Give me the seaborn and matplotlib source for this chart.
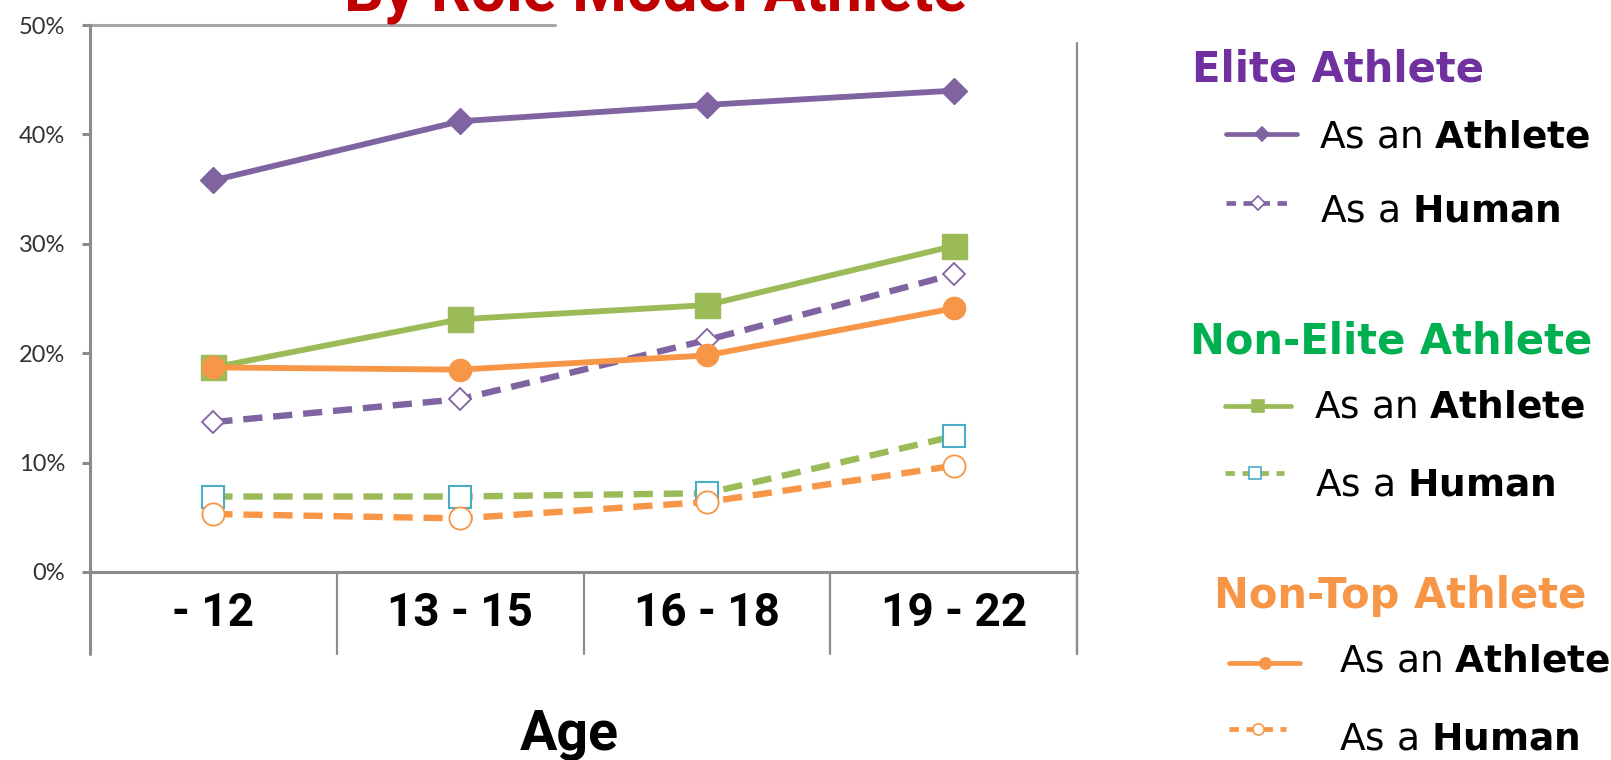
import numpy as np
import matplotlib
matplotlib.use("Agg")
import matplotlib.pyplot as plt
import matplotlib.transforms as mtransforms
import seaborn as sns

# data
ages = ['- 12', '13 - 15', '16 - 18', '19 - 22']
elite_athlete = [35.8, 41.2, 42.7, 44.0]
elite_human = [13.7, 15.8, 21.2, 27.2]
nonelite_athlete = [18.7, 23.1, 24.4, 29.8]
nonelite_human = [6.9, 6.9, 7.2, 12.4]
nontop_athlete = [18.7, 18.5, 19.8, 24.1]
nontop_human = [5.3, 4.9, 6.4, 9.7]
yticks = [0, 10, 20, 30, 40, 50]

PURPLE = '#8064A2'
GREEN = '#9BBB59'
ORANGE = '#F79646'
CYAN = '#4BACC6'
GRAY = '#8c8c8c'

sns.set_theme(style='white')
plt.rcParams['font.family'] = ['DejaVu Sans']
plt.rcParams['mathtext.fontset'] = 'dejavusans'

W, H = 1611, 760
fig = plt.figure(figsize=(W / 100, H / 100), dpi=100)
fig.patch.set_facecolor('white')

# axes box in pixels: x 90..1077, y 25..572
ax = fig.add_axes([90 / W, 1 - 572 / H, (1077 - 90) / W, (572 - 25) / H])
ax.set_facecolor('white')

x = np.arange(len(ages))
dash = (0, (3.0, 1.7))

series = [
    (elite_athlete, dict(color=PURPLE, lw=4.2, marker='D', markersize=13,
                         markerfacecolor=PURPLE, markeredgecolor=PURPLE, markeredgewidth=1, linestyle='-')),
    (elite_human, dict(color=PURPLE, lw=4.6, marker='D', markersize=11,
                       markerfacecolor='white', markeredgecolor=PURPLE, markeredgewidth=1.3, linestyle=dash)),
    (nonelite_athlete, dict(color=GREEN, lw=4.2, marker='s', markersize=18,
                            markerfacecolor=GREEN, markeredgecolor=GREEN, markeredgewidth=1, linestyle='-')),
    (nonelite_human, dict(color=GREEN, lw=4.6, marker='s', markersize=16,
                          markerfacecolor='white', markeredgecolor=CYAN, markeredgewidth=1.5, linestyle=dash)),
    (nontop_athlete, dict(color=ORANGE, lw=4.2, marker='o', markersize=16,
                          markerfacecolor=ORANGE, markeredgecolor=ORANGE, markeredgewidth=1, linestyle='-')),
    (nontop_human, dict(color=ORANGE, lw=4.6, marker='o', markersize=16,
                        markerfacecolor='white', markeredgecolor=ORANGE, markeredgewidth=1.3, linestyle=dash)),
]
for vals, kw in series:
    sns.lineplot(x=x, y=vals, ax=ax, **kw)

ax.set_xlim(-0.5, 3.5)
ax.set_ylim(0, 50)
ax.set_xlabel('')
ax.set_ylabel('')

for s in ['top', 'right']:
    ax.spines[s].set_visible(False)
for s in ['left', 'bottom']:
    ax.spines[s].set_color(GRAY)
    ax.spines[s].set_linewidth(2.2)

ax.set_yticks(yticks)
ax.set_yticklabels([f'{v}%' for v in yticks], family='Lato', fontsize=17, color='#333333')
ax.tick_params(axis='y', left=True, length=6, width=2.2, color=GRAY, pad=12)

ax.set_xticks(x)
ax.set_xticklabels(ages, family=['Roboto', 'DejaVu Sans'], fontweight='bold', fontsize=33, color='black')
ax.tick_params(axis='x', bottom=False, length=0, pad=14)

# partial top gridline at 50% (title box hides the rest)
ax.axhline(50, xmin=0, xmax=(555 - 90) / (1077 - 90), color='#a6a6a6', lw=2.2, clip_on=False)

# category dividers below the axis and right border line
trans = mtransforms.blended_transform_factory(ax.transData, ax.transAxes)
low = -(654 - 572) / (572 - 25)
for xd in np.arange(-0.5, 4.0, 1.0):
    ax.plot([xd, xd], [0, low], transform=trans, color=GRAY,
            lw=2.2 if xd == -0.5 else 1.6, clip_on=False)
ax.plot([3.5, 3.5], [low, (572 - 43) / (572 - 25)], transform=trans,
        color=GRAY, lw=1.6, clip_on=False)

# title (cut off at the top) and axis title
fig.text(656 / W, 1 - 10 / H, 'By Role Model Athlete', ha='center', va='baseline',
         family=['Roboto', 'DejaVu Sans'], fontweight='bold', fontsize=45, color='#C00000')
fig.text(569 / W, 1 - 750 / H, 'Age', ha='center', va='baseline',
         family=['Roboto', 'DejaVu Sans'], fontweight='bold', fontsize=40, color='black')

# custom legend, drawn in pixel coordinates
lax = fig.add_axes([0, 0, 1, 1])
lax.set_xlim(0, W)
lax.set_ylim(H, 0)
lax.axis('off')

groups = [
    ('Elite Athlete', '#7030A0', 1192, 66),
    ('Non-Elite Athlete', '#00B050', 1190, 339),
    ('Non-Top Athlete', ORANGE, 1214, 593),
]
for label, col, gx, gy in groups:
    lax.text(gx, gy + 15, label, ha='left', va='baseline', fontsize=30,
             fontweight='bold', color=col)

entries = [
    (PURPLE, '-', 'D', PURPLE, PURPLE, 1226, 1297, 134, 1319, 134, 'As an $\\mathbf{Athlete}$'),
    (PURPLE, '--', 'D', 'white', PURPLE, 1226, 1289, 203, 1320, 207, 'As a $\\mathbf{Human}$'),
    (GREEN, '-', 's', GREEN, GREEN, 1225, 1291, 406, 1314, 404, 'As an $\\mathbf{Athlete}$'),
    (GREEN, '--', 's', 'white', CYAN, 1225, 1284, 473, 1315, 482, 'As a $\\mathbf{Human}$'),
    (ORANGE, '-', 'o', ORANGE, ORANGE, 1229, 1300, 663, 1339, 658, 'As an $\\mathbf{Athlete}$'),
    (ORANGE, '--', 'o', 'white', ORANGE, 1229, 1286, 729, 1339, 736, 'As a $\\mathbf{Human}$'),
]
for col, ls, mk, mfc, mec, x0, x1, ly, tx, ty, txt in entries:
    lax.plot([x0, x1], [ly, ly], color=col, lw=3.4, linestyle=(0, (2.0, 1.6)) if ls == '--' else '-')
    lax.plot([(x0 + x1) / 2], [ly], marker=mk, markersize=7 if mk == 'D' else 8,
             markerfacecolor=mfc, markeredgecolor=mec, markeredgewidth=1.2, linestyle='none')
    lax.text(tx, ty + 14, txt, ha='left', va='baseline', fontsize=27, color='black')

fig.savefig('out.png', dpi=100, facecolor='white')
